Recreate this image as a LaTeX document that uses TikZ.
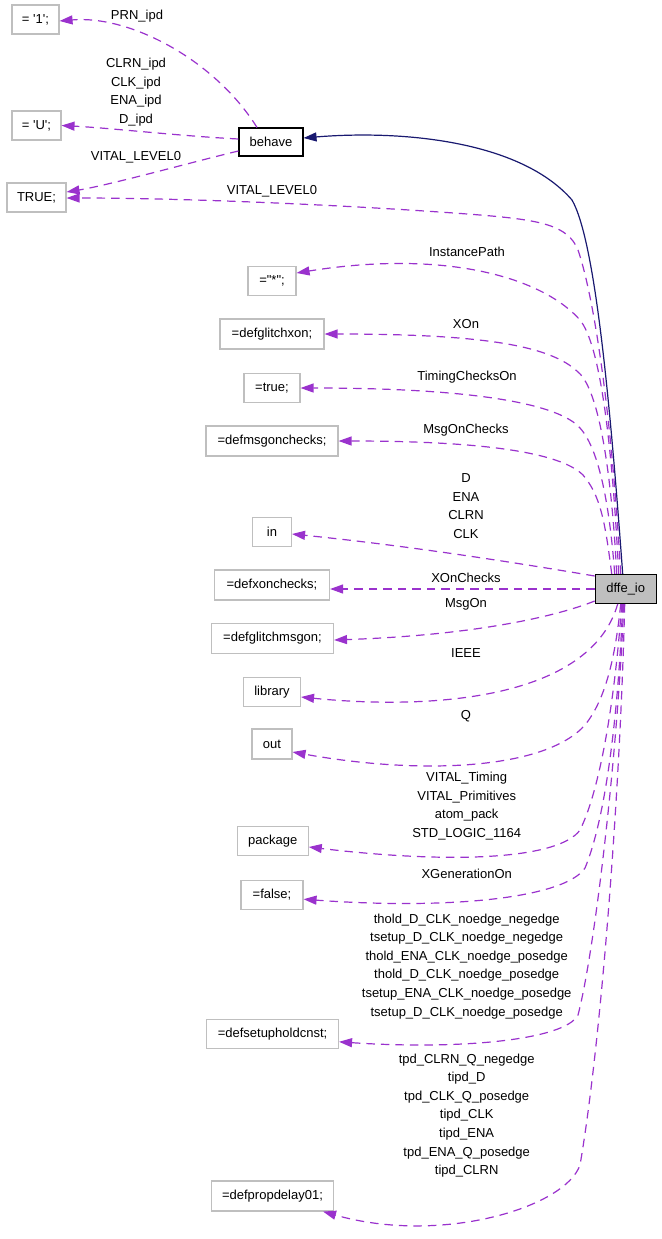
\documentclass[tikz,border=0pt]{standalone}
\usepackage{fontspec}
\setmainfont{Liberation Sans}
\usetikzlibrary{arrows.meta}
\definecolor{edgep}{HTML}{9A32CD}
\definecolor{edgeb}{HTML}{191970}
\definecolor{boxg}{HTML}{BFBFBF}
\begin{document}
\begin{tikzpicture}[x=1pt,y=-1pt,font=\fontsize{13}{18.6}\selectfont,
  box/.style={draw=boxg,line width=1.1pt,inner sep=0pt,minimum height=29pt,fill=white},
  mainbox/.style={draw=black,line width=1.1pt,inner sep=0pt,minimum height=29pt},
  pe/.style={draw=edgep,line width=1.2pt,dash pattern=on 8.5pt off 6pt,-{Triangle[length=13pt,width=9pt]}},
  be/.style={draw=edgeb,line width=1.2pt,-{Triangle[length=13pt,width=9pt]}},
  lbl/.style={inner sep=0pt,align=center}]
\useasboundingbox (0,0) rectangle (661,1239);

% boxes
\node[box,minimum width=47pt] (one) at (35.5,19.5) {= \textquotesingle 1\textquotesingle ;};
\node[box,minimum width=49pt] (U) at (36.5,125.5) {= \textquotesingle U\textquotesingle ;};
\node[box,minimum width=59pt] (TRUE) at (36.5,197.5) {TRUE;};
\node[mainbox,minimum width=64pt,minimum height=28pt,fill=white] (behave) at (271,142) {behave};
\node[box,minimum width=48pt] (star) at (272,281) {=\textquotedbl *\textquotedbl ;};
\node[box,minimum width=104pt,minimum height=30pt] (glitchxon) at (272,334) {=defglitchxon;};
\node[box,minimum width=56pt] (true) at (272,388) {=true;};
\node[box,minimum width=132pt,minimum height=30pt] (msgonchecks) at (272,441) {=defmsgonchecks;};
\node[box,minimum width=39pt] (in) at (272,532) {in};
\node[box,minimum width=115pt,minimum height=30pt] (xonchecks) at (272,585) {=defxonchecks;};
\node[box,minimum width=122pt,minimum height=30pt] (glitchmsgon) at (272.5,638.5) {=defglitchmsgon;};
\node[box,minimum width=57pt] (library) at (272,692) {library};
\node[box,minimum width=40pt,minimum height=30pt] (out) at (272,744) {out};
\node[mainbox,minimum width=61pt,fill=boxg] (dffe) at (625.7,589) {dffe\_io};
\node[box,minimum width=71pt] (package) at (272.7,841) {package};
\node[box,minimum width=62pt] (false) at (272,894.7) {=false;};
\node[box,minimum width=132pt] (setuphold) at (272.5,1034.3) {=defsetupholdcnst;};
\node[box,minimum width=122pt,minimum height=30pt] (propdelay) at (272.5,1196) {=defpropdelay01;};

% edges from behave
\draw[pe] ([xshift=-14pt]behave.north) .. controls (215,60) and (130,15) .. ([yshift=-1.5pt]one.east);
\draw[pe] ([yshift=3pt]behave.west) .. controls (180,136) and (110,128) .. (U.east);
\draw[pe] ([yshift=-9pt]behave.west) .. controls (200,160) and (110,185) .. ([yshift=5.5pt]TRUE.east);

% edges from dffe_io (top)
\draw[be] ([xshift=-3pt]dffe.north) .. controls (610,400) and (595,240) .. (572,200) .. controls (520,140) and (400,130) .. ([yshift=4pt]behave.east);
\draw[pe] ([xshift=-5pt]dffe.north) .. controls (612,420) and (595,300) .. (578,250) .. controls (568,225) and (540,220) .. (480,215) .. controls (380,207) and (200,198) .. ([yshift=-0.5pt]TRUE.east);
\draw[pe] ([xshift=-7pt]dffe.north) .. controls (612,440) and (600,345) .. (580,320) .. controls (540,275) and (440,250) .. ([yshift=8pt]star.east);
\draw[pe] ([xshift=-9pt]dffe.north) .. controls (612,480) and (600,390) .. (578,372) .. controls (550,345) and (480,334) .. (glitchxon.east);
\draw[pe] ([xshift=-11pt]dffe.north) .. controls (610,510) and (600,450) .. (580,428) .. controls (560,405) and (480,388) .. (true.east);
\draw[pe] ([xshift=-14pt]dffe.north) .. controls (605,520) and (600,495) .. (583,475) .. controls (560,452) and (480,441) .. (msgonchecks.east);

% edges from dffe_io (left)
\draw[pe] ([yshift=13pt]dffe.west) .. controls (500,560) and (400,545) .. ([yshift=-2pt]in.east);
\draw[pe] (dffe.west) -- (dffe.west -| xonchecks.east);
\draw[pe] ([yshift=-12pt]dffe.west) .. controls (560,615) and (480,635) .. ([yshift=-1.5pt]glitchmsgon.east);

% edges from dffe_io (bottom)
\draw[pe] ([xshift=-8pt]dffe.south) .. controls (590,700) and (430,710) .. ([yshift=-5pt]library.east);
\draw[pe] ([xshift=-5pt]dffe.south) .. controls (615,660) and (605,700) .. (585,725) .. controls (545,770) and (420,775) .. ([yshift=-8pt]out.east);
\draw[pe] ([xshift=-4pt]dffe.south) .. controls (615,700) and (600,790) .. (580,830) .. controls (560,858) and (460,865) .. ([yshift=-6pt]package.east);
\draw[pe] ([xshift=-3pt]dffe.south) .. controls (618,720) and (605,820) .. (585,868) .. controls (565,898) and (450,910) .. ([yshift=-4.5pt]false.east);
\draw[pe] ([xshift=-2pt]dffe.south) .. controls (618,750) and (595,950) .. (578,1015) .. controls (565,1040) and (460,1050) .. ([yshift=-7.5pt]setuphold.east);
\draw[pe] ([xshift=-1pt]dffe.south) .. controls (620,800) and (600,1050) .. (580,1165) .. controls (565,1208) and (440,1245) .. ([xshift=-11pt]propdelay.south east);

% labels
\node[lbl] (lprn) at (137,16) {PRN\_ipd};
\node[lbl] (lipd) at (136,92.3) {CLRN\_ipd\\CLK\_ipd\\ENA\_ipd\\D\_ipd};
\node[lbl] (lv1) at (136,157.7) {VITAL\_LEVEL0};
\node[lbl] (lv2) at (272,191.7) {VITAL\_LEVEL0};
\node[lbl] (linst) at (467,252) {InstancePath};
\node[lbl] (lxon) at (466,323.7) {XOn};
\node[lbl] (ltco) at (467,376.7) {TimingChecksOn};
\node[lbl] (lmoc) at (466,429.7) {MsgOnChecks};
\node[lbl] (lin) at (466,506) {D\\ENA\\CLRN\\CLK};
\node[lbl] (lxoc) at (466,577.7) {XOnChecks};
\node[lbl] (lmo) at (466,604.7) {MsgOn};
\node[lbl] (lieee) at (466,652.7) {IEEE};
\node[lbl] (lq) at (466,716) {Q};
\node[lbl] (lpkg) at (466.7,806) {VITAL\_Timing\\VITAL\_Primitives\\atom\_pack\\STD\_LOGIC\_1164};
\node[lbl] (lxg) at (466.7,873.7) {XGenerationOn};
\node[lbl] (lsh) at (466.7,966.2) {thold\_D\_CLK\_noedge\_negedge\\tsetup\_D\_CLK\_noedge\_negedge\\thold\_ENA\_CLK\_noedge\_posedge\\thold\_D\_CLK\_noedge\_posedge\\tsetup\_ENA\_CLK\_noedge\_posedge\\tsetup\_D\_CLK\_noedge\_posedge};
\node[lbl] (lpd) at (466.7,1115.5) {tpd\_CLRN\_Q\_negedge\\tipd\_D\\tpd\_CLK\_Q\_posedge\\tipd\_CLK\\tipd\_ENA\\tpd\_ENA\_Q\_posedge\\tipd\_CLRN};
\end{tikzpicture}
\end{document}
